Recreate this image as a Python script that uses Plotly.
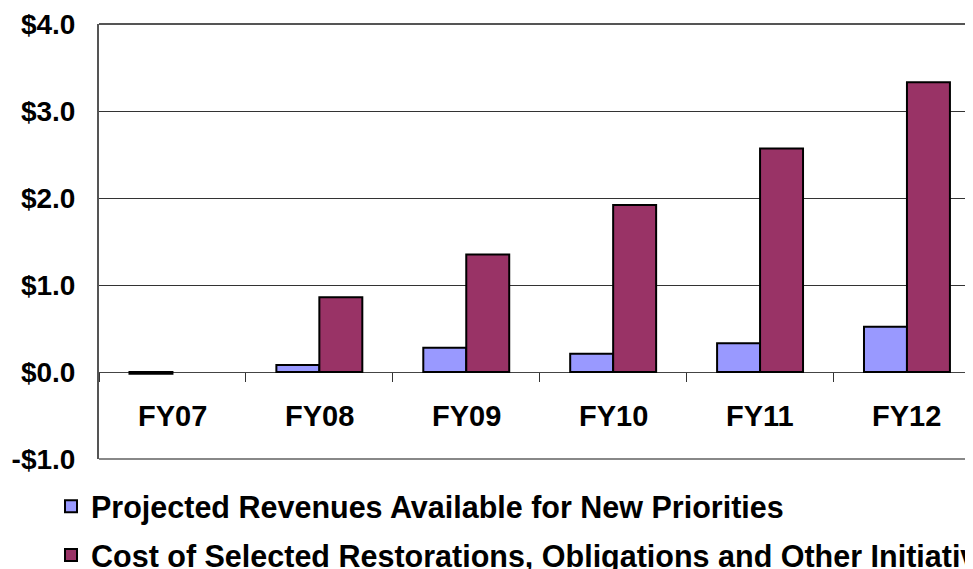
import plotly.graph_objects as go

categories = ["FY07", "FY08", "FY09", "FY10", "FY11", "FY12"]
revenues = [-0.02, 0.08, 0.28, 0.21, 0.33, 0.52]
costs = [None, 0.86, 1.35, 1.92, 2.57, 3.33]
series_names = ["Projected Revenues Available for New Priorities",
                "Cost of Selected Restorations, Obligations and Other Initiatives"]
y_tickvals = [-1, 0, 1, 2, 3, 4]
y_ticktext = ["-$1.0", "$0.0", "$1.0", "$2.0", "$3.0", "$4.0"]

FONT = "Liberation Sans, Arial, sans-serif"

fig = go.Figure()
fig.add_trace(go.Bar(x=categories, y=revenues, name=series_names[0], legendgroup="a",
                     marker=dict(color="#9999FF", line=dict(color="#000000", width=2))))
fig.add_trace(go.Bar(x=categories, y=costs, name=series_names[1], legendgroup="b",
                     marker=dict(color="#993366", line=dict(color="#000000", width=2))))

for c in categories:
    fig.add_annotation(x=c, y=-0.5, xref="x", yref="y", text="<b>%s</b>" % c,
                       showarrow=False, font=dict(family=FONT, size=29, color="#000000"))

# plot-area frame lines (top and bottom borders)
fig.add_shape(type="line", xref="paper", yref="paper", x0=0, x1=1, y0=1, y1=1,
              line=dict(color="#555555", width=2), layer="below")
fig.add_shape(type="line", xref="paper", yref="paper", x0=0, x1=1, y0=0, y1=0,
              line=dict(color="#888888", width=2), layer="below")

fig.update_layout(
    width=973, height=569,
    margin=dict(l=91, r=0, t=16, b=118, autoexpand=False),
    paper_bgcolor="white", plot_bgcolor="white",
    barmode="group", bargap=0.415, bargroupgap=0,
    font=dict(family=FONT, color="#000000"),
    showlegend=True,
    legend=dict(orientation="v", x=0.0442, y=0.1705, xref="container", yref="container",
                xanchor="left", yanchor="top",
                font=dict(family=FONT, size=30.5, color="#000000", weight="bold"),
                tracegroupgap=6, bgcolor="rgba(0,0,0,0)"),
    xaxis=dict(type="category", range=[-0.5, 5.504], anchor="free", position=0.2,
               showticklabels=False, ticks="outside", tickson="boundaries",
               ticklen=9, tickwidth=1, tickcolor="#333333", automargin=False,
               showline=False, showgrid=False, zeroline=False, fixedrange=True),
    yaxis=dict(range=[-1, 4], tickvals=y_tickvals, ticktext=y_ticktext,
               tickfont=dict(family=FONT, size=28, color="#000000", weight="bold"),
               ticklabelstandoff=16, automargin=False,
               showgrid=True, gridcolor="#333333", gridwidth=1,
               zeroline=True, zerolinecolor="#444444", zerolinewidth=1,
               showline=True, linecolor="#555555", linewidth=2, ticks=""),
)

fig.write_html("out.html")
